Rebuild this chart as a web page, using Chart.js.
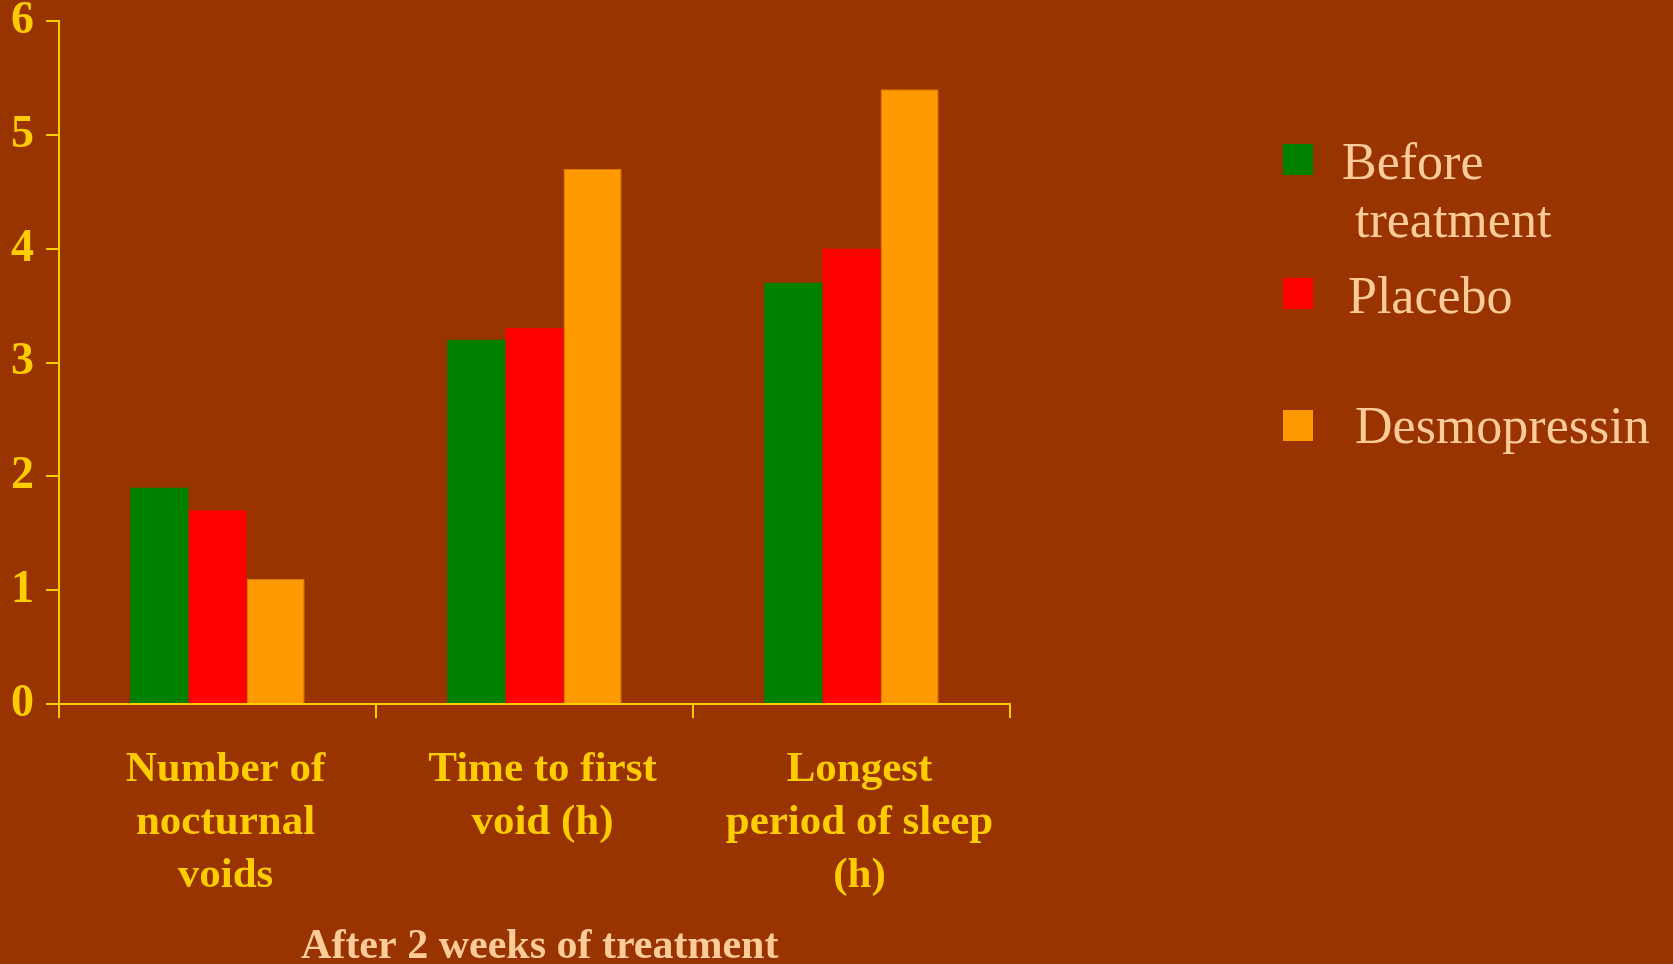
<!DOCTYPE html>
<html>
<head>
<meta charset="utf-8">
<script src="https://cdn.jsdelivr.net/npm/chart.js@4.4.1/dist/chart.umd.min.js"></script>
<style>
  html, body { margin: 0; padding: 0; background: #993300; }
  canvas { display: block; }
</style>
</head>
<body>
<canvas id="chart" width="1673" height="964"></canvas>
<script>
// data
const categories = [
  ['Number of', 'nocturnal', 'voids'],
  ['Time to first', 'void (h)'],
  ['Longest', 'period of sleep', '(h)']
];
const seriesNames = [['Before', ' treatment'], 'Placebo', 'Desmopressin'];
const beforeTreatment = [1.9, 3.2, 3.7];
const placebo = [1.7, 3.3, 4.0];
const desmopressin = [1.1, 4.7, 5.4];
const yTicks = [0, 1, 2, 3, 4, 5, 6];

const colors = ['#008000', '#FF0000', '#FF9900'];
const serif = '"Liberation Serif", "Times New Roman", serif';

// background + hand drawn legend on the right
const pagePlugin = {
  id: 'page',
  beforeDraw(chart) {
    const ctx = chart.ctx;
    ctx.save();
    ctx.fillStyle = '#993300';
    ctx.fillRect(0, 0, chart.width, chart.height);
    ctx.restore();
  },
  afterDraw(chart) {
    const ctx = chart.ctx;
    const boxY = [144, 278, 410];
    const textX = [1342, 1348, 1355];
    const baseY = [179, 313, 443];
    ctx.save();
    ctx.font = '52px ' + serif;
    ctx.textBaseline = 'alphabetic';
    chart.data.datasets.forEach(function (ds, i) {
      ctx.fillStyle = ds.backgroundColor;
      ctx.fillRect(1283, boxY[i], 30, 31);
      ctx.fillStyle = '#FFCC99';
      const lines = Array.isArray(ds.label) ? ds.label : [ds.label];
      lines.forEach(function (t, j) {
        ctx.fillText(t, textX[i], baseY[i] + j * 58);
      });
    });
    ctx.restore();
  }
};

new Chart(document.getElementById('chart'), {
  type: 'bar',
  data: {
    labels: categories,
    datasets: [
      { label: seriesNames[0], data: beforeTreatment, backgroundColor: colors[0] },
      { label: seriesNames[1], data: placebo, backgroundColor: colors[1] },
      { label: seriesNames[2], data: desmopressin, backgroundColor: colors[2],
        borderColor: '#E08000', borderWidth: 1 }
    ]
  },
  options: {
    responsive: false,
    animation: false,
    layout: { padding: { top: 21, right: 663, left: 0, bottom: 0 } },
    datasets: { bar: { categoryPercentage: 0.55, barPercentage: 1.0 } },
    plugins: {
      legend: { display: false },
      tooltip: { enabled: false }
    },
    scales: {
      x: {
        grid: {
          display: true,
          drawOnChartArea: false,
          drawTicks: true,
          tickLength: 14,
          color: '#FFCC00',
          lineWidth: 2
        },
        border: { color: '#FFCC00', width: 2 },
        ticks: {
          color: '#FFCC00',
          font: { family: serif, size: 43, weight: 'bold', lineHeight: '53px' },
          padding: 25,
          labelOffset: 8,
          maxRotation: 0
        },
        title: {
          display: true,
          text: ' After 2 weeks of treatment',
          color: '#FFCC99',
          font: { family: serif, size: 42, weight: 'bold', lineHeight: 0.8 },
          padding: 0
        },
        afterFit(scale) {
          scale.height = 260;
          scale.paddingLeft = 0;
          scale.paddingRight = 0;
        }
      },
      y: {
        min: 0,
        max: 6,
        afterBuildTicks(scale) {
          scale.ticks = yTicks.map(function (v) { return { value: v }; });
        },
        grid: {
          display: true,
          drawOnChartArea: false,
          drawTicks: true,
          tickLength: 13,
          color: '#FFCC00',
          lineWidth: 2
        },
        border: { color: '#FFCC00', width: 2 },
        ticks: {
          color: '#FFCC00',
          font: { family: serif, size: 46, weight: 'bold' },
          padding: 12
        },
        afterFit(scale) {
          scale.width = 59;
          scale.paddingTop = 0;
          scale.paddingBottom = 0;
        }
      }
    }
  },
  plugins: [pagePlugin]
});
</script>
</body>
</html>
